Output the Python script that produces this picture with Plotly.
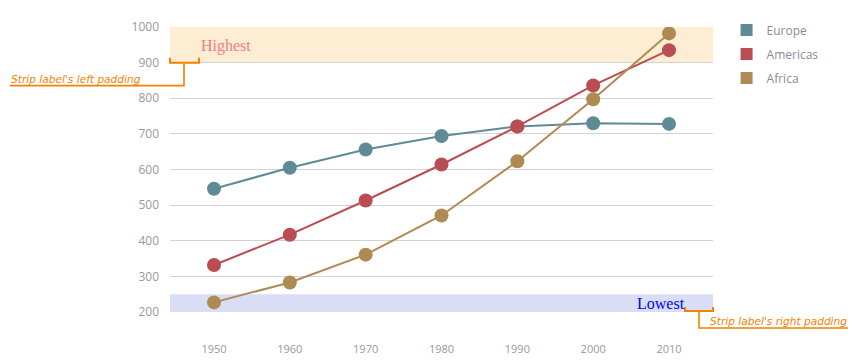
import plotly.graph_objects as go

years = [1950, 1960, 1970, 1980, 1990, 2000, 2010]
europe = [546, 605, 656, 694, 721, 730, 728]
americas = [332, 417, 513, 614, 721, 836, 935]
africa = [227, 283, 361, 471, 623, 797, 982]
series_names = ["Europe", "Americas", "Africa"]
colors = ["#5f8b95", "#ba4d51", "#af8a53"]
y_ticks = [200, 300, 400, 500, 600, 700, 800, 900, 1000]
high_strip = [900, 1000]
low_strip = [200, 250]

fig = go.Figure()
for name, vals, c in zip(series_names, [europe, americas, africa], colors):
    fig.add_trace(go.Scatter(x=years, y=vals, mode="lines+markers", name=name,
                             line=dict(color=c, width=2),
                             marker=dict(color=c, size=14),
                             showlegend=False, legendgroup=name))
    fig.add_trace(go.Scatter(x=[None], y=[None], mode="markers", name=name,
                             marker=dict(color=c, size=12, symbol="square"),
                             legendgroup=name, showlegend=True))

# strips
fig.add_shape(type="rect", xref="paper", yref="y", x0=0, x1=1,
              y0=high_strip[0], y1=high_strip[1], fillcolor="#fdedd3",
              line=dict(width=0), layer="below")
fig.add_shape(type="rect", xref="paper", yref="y", x0=0, x1=1,
              y0=low_strip[0], y1=low_strip[1], fillcolor="#d9def6",
              line=dict(width=0), layer="below")

fig.add_annotation(xref="paper", yref="y", x=29/543, y=(high_strip[0]+high_strip[1])/2,
                   text="Highest", showarrow=False, xanchor="left", yanchor="middle",
                   yshift=-1,
                   font=dict(family="Liberation Serif", size=16, color="#f08080"))
fig.add_annotation(xref="paper", yref="y", x=1-28/543, y=(low_strip[0]+low_strip[1])/2,
                   text="Lowest", showarrow=False, xanchor="right", yanchor="middle",
                   xshift=2,
                   font=dict(family="Liberation Serif", size=16, color="#0000ff"))

orange = "#f68100"
ppx = 1/543   # paper units per pixel (x)
ppy = 1/285   # paper units per pixel (y)
lw = 1.6
y9 = (high_strip[0] - 200) / 800
fig.add_shape(type="path", xref="paper", yref="paper",
              path=f"M 0,{y9+5*ppy} L 0,{y9} L {29*ppx},{y9} L {29*ppx},{y9+5*ppy}",
              line=dict(color=orange, width=2))
fig.add_shape(type="path", xref="paper", yref="paper",
              path=f"M {14*ppx},{y9} L {14*ppx},{y9-23*ppy} L {-160*ppx},{y9-23*ppy}",
              line=dict(color=orange, width=lw))
fig.add_annotation(xref="paper", yref="paper", x=-161*ppx, y=y9-23*ppy,
                   text="<i>Strip label's left padding</i>", showarrow=False,
                   xanchor="left", yanchor="bottom", yshift=-1,
                   font=dict(family="DejaVu Sans", size=10.6, color=orange))
y2 = (low_strip[0] - 200) / 800
fig.add_shape(type="path", xref="paper", yref="paper",
              path=f"M {1-28*ppx},{y2+5*ppy} L {1-28*ppx},{y2+1*ppy} L 1,{y2+1*ppy} L 1,{y2+5*ppy}",
              line=dict(color=orange, width=2))
fig.add_shape(type="path", xref="paper", yref="paper",
              path=f"M {1-14*ppx},{y2+1*ppy} L {1-14*ppx},{y2-16*ppy} L {1+135*ppx},{y2-16*ppy}",
              line=dict(color=orange, width=lw))
fig.add_annotation(xref="paper", yref="paper", x=1+136*ppx, y=y2-16*ppy,
                   text="<i>Strip label's right padding</i>", showarrow=False,
                   xanchor="right", yanchor="bottom", yshift=-1,
                   font=dict(family="DejaVu Sans", size=10.6, color=orange))

fig.update_layout(
    width=862, height=363,
    margin=dict(l=170, r=149, t=27, b=51, autoexpand=False),
    plot_bgcolor="white", paper_bgcolor="white",
    font=dict(family="Open Sans", size=11, color="#999999"),
    legend=dict(x=1.025, y=1.04, xanchor="left", yanchor="top",
                font=dict(size=12, color="#8a8a9a"),
                traceorder="grouped", tracegroupgap=5, itemwidth=30),
    xaxis=dict(range=[1944.2, 2015.8], tickvals=years, showgrid=False,
               zeroline=False, showline=False, ticklabelstandoff=29,
               tickfont=dict(size=11, color="#999999")),
    yaxis=dict(range=[200, 1000], tickvals=y_ticks, showgrid=True,
               gridcolor="#d3d3d3", gridwidth=1, zeroline=False, showline=False,
               ticklabelstandoff=10, tickfont=dict(size=12, color="#999999")),
)
fig.write_html("out.html", config={"displayModeBar": False},
               post_script="document.body.style.margin='0';")
